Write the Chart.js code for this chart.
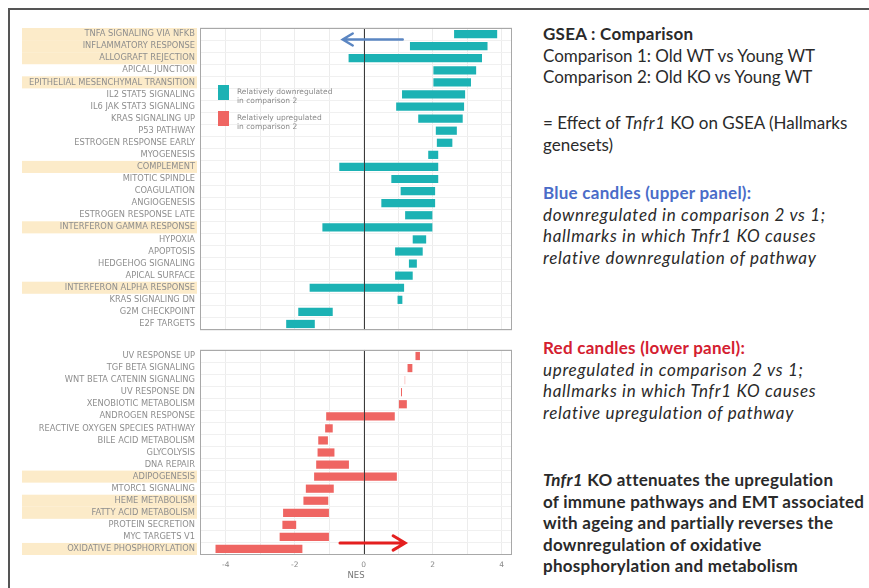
<!DOCTYPE html>
<html>
<head>
<meta charset="utf-8">
<script src="https://cdn.jsdelivr.net/npm/chart.js@4/dist/chart.umd.min.js"></script>
<style>
  body { margin: 0; background: #fff; width: 869px; height: 588px; overflow: hidden; position: relative; }
  #frame { position: absolute; left: 8px; top: 8px; right: -10px; bottom: -10px; border-top: 2px solid #555; border-left: 2px solid #555; }
  canvas { position: absolute; left: 0; }
  #upper { top: 0; }
  #lower { top: 340px; }
  .legend { position: absolute; font: 7.5px "DejaVu Sans", sans-serif; color: #8a8a8a; line-height: 8.5px; }
  .legend .sw { position: absolute; left: -19px; top: -3px; width: 11px; height: 15px; }
  .txt { position: absolute; left: 543px; font-family: "Lato", sans-serif; font-size: 17px; line-height: 21.5px; color: #2a2a2a; white-space: nowrap; }
  .txt b { font-weight: 700; letter-spacing: 0.25px; }
  .txt i { font-style: italic; letter-spacing: 0.7px; }
  .txt b i { letter-spacing: 0.25px; }
</style>
</head>
<body>
<div id="frame"></div>
<canvas id="upper" width="520" height="340"></canvas>
<canvas id="lower" width="520" height="248"></canvas>

<div class="legend" style="left:237px; top:88px;"><div class="sw" style="background:#1cb2b4"></div>Relatively downregulated<br>in comparison 2</div>
<div class="legend" style="left:237px; top:114px;"><div class="sw" style="background:#ef6562"></div>Relatively upregulated<br>in comparison 2</div>

<div class="txt" style="top:23px;"><b>GSEA : Comparison</b><br>Comparison 1: Old WT vs Young WT<br>Comparison 2: Old KO vs Young WT</div>
<div class="txt" style="top:112px;">= Effect of <i>Tnfr1</i> KO on GSEA (Hallmarks<br>genesets)</div>
<div class="txt" style="top:182px;"><b style="color:#4a6cc8">Blue candles (upper panel):</b><br><i>downregulated in comparison 2 vs 1;<br>hallmarks in which Tnfr1 KO causes<br>relative downregulation of pathway</i></div>
<div class="txt" style="top:337px;"><b style="color:#d42030">Red candles (lower panel):</b><br><i>upregulated in comparison 2 vs 1;<br>hallmarks in which Tnfr1 KO causes<br>relative upregulation of pathway</i></div>
<div class="txt" style="top:469px;"><b><i>Tnfr1</i> KO attenuates the upregulation<br>of immune pathways and EMT associated<br>with ageing and partially reverses the<br>downregulation of oxidative<br>phosphorylation and metabolism</b></div>

<script>
// hallmark gene sets, NES in comparison 1 and comparison 2
const upperCategories = [
  "TNFA SIGNALING VIA NFKB", "INFLAMMATORY RESPONSE", "ALLOGRAFT REJECTION", "APICAL JUNCTION",
  "EPITHELIAL MESENCHYMAL TRANSITION", "IL2 STAT5 SIGNALING", "IL6 JAK STAT3 SIGNALING", "KRAS SIGNALING UP",
  "P53 PATHWAY", "ESTROGEN RESPONSE EARLY", "MYOGENESIS", "COMPLEMENT", "MITOTIC SPINDLE", "COAGULATION",
  "ANGIOGENESIS", "ESTROGEN RESPONSE LATE", "INTERFERON GAMMA RESPONSE", "HYPOXIA", "APOPTOSIS",
  "HEDGEHOG SIGNALING", "APICAL SURFACE", "INTERFERON ALPHA RESPONSE", "KRAS SIGNALING DN",
  "G2M CHECKPOINT", "E2F TARGETS"
];
const upperNes1 = [3.87, 3.59, 3.43, 3.26, 3.11, 2.94, 2.91, 2.87, 2.70, 2.57, 2.16, 2.16, 2.16, 2.07, 2.07, 1.99, 1.99, 1.81, 1.71, 1.54, 1.42, 1.17, 1.12, -0.90, -1.42];
const upperNes2 = [2.62, 1.34, -0.44, 2.02, 2.02, 1.11, 0.94, 1.58, 2.09, 2.12, 1.87, -0.71, 0.80, 1.07, 0.51, 1.20, -1.20, 1.42, 0.91, 1.31, 0.91, -1.57, 0.98, -1.90, -2.25];
const upperHighlight = ["TNFA SIGNALING VIA NFKB", "INFLAMMATORY RESPONSE", "ALLOGRAFT REJECTION",
  "EPITHELIAL MESENCHYMAL TRANSITION", "COMPLEMENT", "INTERFERON GAMMA RESPONSE", "INTERFERON ALPHA RESPONSE"];

const lowerCategories = [
  "UV RESPONSE UP", "TGF BETA SIGNALING", "WNT BETA CATENIN SIGNALING", "UV RESPONSE DN",
  "XENOBIOTIC METABOLISM", "ANDROGEN RESPONSE", "REACTIVE OXYGEN SPECIES PATHWAY", "BILE ACID METABOLISM",
  "GLYCOLYSIS", "DNA REPAIR", "ADIPOGENESIS", "MTORC1 SIGNALING", "HEME METABOLISM",
  "FATTY ACID METABOLISM", "PROTEIN SECRETION", "MYC TARGETS V1", "OXIDATIVE PHOSPHORYLATION"
];
const lowerNes1 = [1.50, 1.27, 1.19, 1.08, 1.02, -1.09, -1.12, -1.32, -1.34, -1.38, -1.44, -1.68, -1.75, -2.34, -2.36, -2.44, -4.30];
const lowerNes2 = [1.63, 1.41, 1.20, 1.11, 1.25, 0.90, -0.90, -1.04, -0.85, -0.43, 0.96, -0.87, -1.03, -1.01, -1.96, -1.01, -1.78];
const lowerHighlight = ["ADIPOGENESIS", "HEME METABOLISM", "FATTY ACID METABOLISM", "OXIDATIVE PHOSPHORYLATION"];

const nesTicks = [-4, -3, -2, -1, 0, 1, 2, 3, 4];
const nesMin = -4.75, nesMax = 4.3;

// annotation arrows (NES from -> to, at a fractional row)
const upperArrow = { from: 1.13, to: -0.61, row: 0.45, color: "#5b86c2" };
const lowerArrow = { from: -0.69, to: 1.20, row: 15.5, color: "#e41f1f" };

const BLUE = "#1cb2b4";
const RED = "#ef6562";

const panelPlugin = {
  id: "panel",
  beforeDraw(chart, args, opts) {
    const ctx = chart.ctx, y = chart.scales.y;
    const rowH = (y.bottom - y.top) / y.ticks.length;
    ctx.save();
    ctx.fillStyle = "#fcebc9";
    chart.data.labels.forEach((lab, i) => {
      if (!opts.highlight.includes(lab)) return;
      const cy = y.getPixelForValue(i);
      ctx.fillRect(22, cy - rowH / 2, chart.chartArea.left - 3 - 22, rowH);
    });
    ctx.restore();
  },
  afterDatasetsDraw(chart, args, opts) {
    const ctx = chart.ctx, x = chart.scales.x, y = chart.scales.y, a = chart.chartArea;
    ctx.save();
    // zero line
    const x0 = Math.round(x.getPixelForValue(0)) + 0.5;
    ctx.strokeStyle = "#3a3a3a";
    ctx.lineWidth = 1;
    ctx.beginPath(); ctx.moveTo(x0, a.top); ctx.lineTo(x0, a.bottom); ctx.stroke();
    // arrow
    const ar = opts.arrow;
    const x1 = x.getPixelForValue(ar.from), x2 = x.getPixelForValue(ar.to);
    const ay = y.getPixelForValue(ar.row);
    const dir = x2 > x1 ? 1 : -1;
    ctx.strokeStyle = ar.color;
    ctx.lineWidth = opts.arrowWidth;
    ctx.lineCap = "round";
    ctx.beginPath();
    ctx.moveTo(x1, ay); ctx.lineTo(x2, ay);
    ctx.moveTo(x2 - dir * opts.head, ay - opts.head * 0.6); ctx.lineTo(x2, ay); ctx.lineTo(x2 - dir * opts.head, ay + opts.head * 0.6);
    ctx.stroke();
    // panel border
    ctx.strokeStyle = "#a8a8a8";
    ctx.lineWidth = 1;
    ctx.strokeRect(a.left + 0.5, a.top + 0.5, a.right - a.left - 1, a.bottom - a.top - 1);
    ctx.restore();
  }
};

function makePanel(id, labels, nes1, nes2, color, highlight, arrow, isBottom) {
  const bars = labels.map((_, i) => [Math.min(nes1[i], nes2[i]), Math.max(nes1[i], nes2[i])]);
  return new Chart(document.getElementById(id), {
    type: "bar",
    data: {
      labels,
      datasets: [{
        data: bars,
        backgroundColor: color,
        borderWidth: 0,
        borderSkipped: false,
        barPercentage: 0.68,
        categoryPercentage: 1
      }]
    },
    options: {
      indexAxis: "y",
      responsive: false,
      animation: false,
      layout: { padding: { top: isBottom ? 6 : 28, right: 8, bottom: 0, left: 0 } },
      plugins: {
        legend: { display: false },
        tooltip: { enabled: false },
        panel: { highlight, arrow, arrowWidth: isBottom ? 3 : 2.5, head: isBottom ? 12 : 10 }
      },
      scales: {
        x: {
          type: "linear",
          min: nesMin,
          max: nesMax,
          afterBuildTicks: s => { s.ticks = nesTicks.map(v => ({ value: v })); },
          afterFit: s => { s.height = isBottom ? 33 : 3; },
          grid: { color: "#ececec", lineWidth: 1, drawTicks: false },
          border: { display: false },
          ticks: {
            display: isBottom,
            padding: 6,
            color: "#8a8a8a",
            font: { family: "DejaVu Sans", size: 7.5 },
            callback: v => (v % 2 === 0 ? String(v) : "")
          },
          title: {
            display: isBottom,
            text: "NES",
            color: "#777",
            font: { family: "DejaVu Sans", size: 8.5 },
            padding: { top: 0, bottom: 7 }
          }
        },
        y: {
          type: "category",
          afterFit: s => { s.width = 200; },
          grid: { color: "#f0f0f0", drawTicks: false },
          border: { display: false },
          ticks: {
            padding: 5,
            color: "#8e8e8e",
            autoSkip: false,
            font: { family: "DejaVu Sans", size: 8.3 }
          }
        }
      }
    },
    plugins: [panelPlugin]
  });
}

makePanel("upper", upperCategories, upperNes1, upperNes2, BLUE, upperHighlight, upperArrow, false);
makePanel("lower", lowerCategories, lowerNes1, lowerNes2, RED, lowerHighlight, lowerArrow, true);
</script>
</body>
</html>
